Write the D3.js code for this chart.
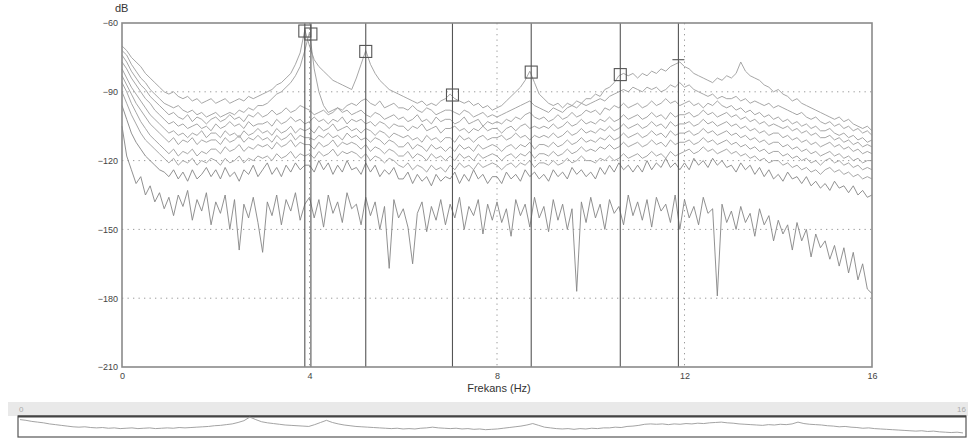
<!DOCTYPE html>
<html>
  <head>
    <meta charset="utf-8">
    <title>Frekans</title>
    <script src="https://cdn.jsdelivr.net/npm/d3@7"></script>
    <style>
      body { margin: 0; background: #ffffff; }
      text { font-family: Arial, "Liberation Sans", sans-serif; }
    </style>
  </head>
  <body>
    <svg width="968" height="439" id="mainsvg"></svg>
    <script>
      // spectra in dB, one value per 0.1 Hz bin from 0 to 16 Hz (161 bins)
      const binWidth = 0.1;
      const specA = [
        -70, -72, -75, -77, -79, -82, -84, -86, -88, -90,
        -91, -90, -92, -93, -92, -94, -93, -95, -94, -93,
        -95, -94, -93, -95, -94, -93, -94, -92, -93, -92,
        -91, -90, -89, -87, -86, -84, -82, -78, -73, -63,
        -70, -76, -79, -81, -83, -85, -86, -87, -88, -89,
        -84, -78, -72, -78, -82, -85, -87, -89, -90, -91,
        -92, -93, -94, -95, -94, -96, -95, -96, -94, -93,
        -91, -93, -94, -95, -94, -96, -95, -97, -96, -98,
        -97, -96, -94, -92, -90, -88, -85, -81, -86, -91,
        -93, -95, -96, -95, -97, -95, -96, -94, -95, -93,
        -93, -91, -92, -89, -88, -86, -83, -82, -83, -82,
        -84, -82, -83, -81, -82, -80, -81, -79, -78, -77,
        -79, -80, -82, -83, -84, -85, -86, -84, -85, -83,
        -84, -82, -77, -81, -83, -84, -85, -87, -88, -90,
        -89, -91, -92, -94, -93, -95, -96, -97, -98, -99,
        -100, -101, -102, -101, -103, -102, -104, -105, -106, -105,
        -107];
      const specB = [
        -72, -74, -78, -81, -84, -86, -89, -91, -93, -95,
        -96, -97, -96, -98, -99, -98, -100, -99, -101, -100,
        -99, -101, -100, -99, -100, -98, -99, -97, -98, -96,
        -96, -95, -93, -91, -90, -88, -86, -83, -79, -72,
        -64, -80, -90, -96, -99, -98, -97, -98, -96, -95,
        -96, -94, -93, -95, -96, -94, -97, -96, -95, -97,
        -97, -98, -96, -98, -99, -97, -98, -100, -99, -98,
        -98, -99, -100, -98, -99, -101, -100, -99, -101, -100,
        -101, -100, -99, -98, -97, -96, -95, -94, -96, -97,
        -98, -99, -97, -98, -99, -97, -96, -97, -95, -96,
        -95, -94, -93, -94, -92, -91, -90, -89, -90, -88,
        -89, -90, -88, -89, -88, -90, -89, -87, -88, -86,
        -88, -87, -89, -90, -91, -92, -91, -93, -92, -93,
        -93, -92, -94, -93, -95, -94, -95, -96, -95, -97,
        -96, -97, -98, -99, -100, -99, -101, -102, -101, -103,
        -104, -103, -105, -104, -106, -105, -107, -106, -108, -107,
        -109];
      const specC = [
        -74, -77, -81, -84, -87, -89, -92, -94, -96, -98,
        -100, -99, -101, -102, -100, -103, -101, -102, -104, -102,
        -101, -103, -102, -100, -102, -101, -103, -100, -101, -99,
        -101, -100, -98, -100, -99, -97, -99, -98, -96, -97,
        -98, -100, -99, -98, -100, -99, -97, -99, -98, -100,
        -99, -98, -100, -101, -99, -100, -102, -101, -100, -102,
        -101, -103, -102, -100, -103, -102, -104, -101, -103, -102,
        -102, -104, -103, -101, -104, -103, -102, -105, -103, -104,
        -103, -104, -102, -103, -101, -102, -100, -99, -101, -102,
        -101, -103, -102, -100, -102, -101, -99, -101, -100, -98,
        -99, -98, -100, -97, -98, -96, -97, -95, -97, -96,
        -95, -97, -96, -94, -96, -95, -93, -95, -94, -96,
        -95, -94, -96, -95, -97, -95, -96, -94, -96, -97,
        -96, -98, -97, -99, -98, -100, -99, -101, -100, -102,
        -101, -103, -102, -104, -103, -105, -104, -106, -105, -107,
        -107, -106, -108, -109, -108, -110, -109, -111, -110, -112,
        -111];
      const specD = [
        -77, -80, -84, -87, -90, -93, -95, -98, -100, -102,
        -104, -103, -105, -104, -106, -105, -104, -106, -105, -107,
        -104, -106, -105, -103, -105, -104, -106, -103, -105, -104,
        -104, -103, -105, -102, -104, -103, -101, -103, -102, -104,
        -103, -101, -103, -102, -104, -102, -103, -101, -104, -102,
        -103, -102, -104, -103, -105, -103, -104, -106, -104, -105,
        -105, -107, -105, -106, -104, -107, -106, -105, -108, -106,
        -106, -105, -107, -106, -108, -106, -107, -105, -107, -106,
        -106, -108, -106, -105, -107, -105, -104, -106, -105, -106,
        -105, -106, -104, -106, -105, -103, -105, -104, -102, -104,
        -103, -104, -102, -103, -101, -103, -102, -100, -102, -101,
        -100, -102, -101, -99, -101, -100, -102, -99, -101, -100,
        -100, -99, -101, -100, -98, -100, -99, -101, -100, -99,
        -101, -100, -102, -101, -103, -102, -104, -103, -105, -104,
        -105, -106, -105, -107, -106, -108, -107, -109, -108, -110,
        -110, -109, -111, -110, -112, -111, -113, -112, -114, -113,
        -114];
      const specE = [
        -80, -84, -88, -91, -94, -97, -100, -102, -104, -106,
        -108, -107, -109, -108, -110, -108, -109, -107, -110, -108,
        -108, -110, -107, -109, -108, -110, -107, -109, -108, -106,
        -108, -107, -109, -106, -108, -107, -105, -108, -106, -107,
        -106, -108, -105, -107, -106, -104, -107, -106, -105, -107,
        -106, -108, -106, -107, -109, -107, -108, -110, -108, -109,
        -110, -109, -111, -110, -112, -109, -111, -110, -112, -110,
        -110, -112, -109, -111, -110, -112, -110, -109, -111, -110,
        -110, -109, -111, -110, -108, -110, -109, -111, -109, -110,
        -109, -110, -108, -110, -109, -107, -109, -108, -106, -108,
        -107, -108, -106, -107, -105, -107, -106, -104, -106, -105,
        -104, -106, -105, -103, -105, -104, -106, -103, -105, -104,
        -104, -103, -105, -104, -102, -104, -103, -105, -104, -103,
        -105, -104, -106, -105, -107, -106, -108, -107, -109, -108,
        -108, -110, -109, -111, -110, -112, -111, -113, -112, -114,
        -113, -112, -114, -113, -115, -114, -116, -115, -117, -116,
        -117];
      const specF = [
        -83, -87, -91, -95, -98, -101, -104, -106, -108, -110,
        -112, -110, -113, -111, -112, -110, -113, -111, -112, -111,
        -111, -113, -110, -112, -111, -109, -112, -110, -111, -109,
        -111, -110, -112, -109, -111, -110, -108, -111, -109, -110,
        -110, -111, -109, -110, -108, -110, -109, -111, -108, -110,
        -109, -111, -110, -112, -110, -111, -113, -111, -112, -114,
        -114, -112, -115, -113, -114, -116, -113, -115, -114, -116,
        -114, -116, -113, -115, -114, -116, -113, -115, -114, -113,
        -114, -116, -114, -113, -115, -113, -114, -112, -115, -113,
        -113, -114, -112, -114, -113, -111, -113, -112, -110, -112,
        -111, -112, -110, -111, -109, -111, -110, -108, -110, -109,
        -108, -110, -109, -107, -109, -108, -110, -107, -109, -108,
        -108, -107, -109, -108, -106, -108, -107, -109, -108, -107,
        -109, -108, -110, -109, -111, -110, -112, -111, -113, -112,
        -112, -114, -113, -115, -114, -116, -115, -117, -116, -118,
        -117, -116, -118, -117, -119, -118, -120, -119, -121, -120,
        -120];
      const specG = [
        -86, -90, -95, -99, -103, -106, -109, -111, -113, -115,
        -117, -115, -118, -116, -117, -115, -118, -116, -117, -115,
        -115, -117, -114, -116, -115, -113, -116, -114, -115, -113,
        -114, -113, -115, -112, -114, -113, -111, -114, -112, -113,
        -113, -115, -112, -114, -113, -111, -114, -112, -113, -112,
        -113, -115, -113, -116, -114, -115, -117, -115, -116, -118,
        -118, -116, -119, -117, -118, -120, -117, -119, -118, -120,
        -118, -120, -117, -119, -118, -120, -117, -119, -118, -117,
        -118, -120, -118, -117, -119, -117, -118, -116, -119, -117,
        -117, -118, -116, -118, -117, -115, -117, -116, -114, -116,
        -115, -116, -114, -115, -113, -115, -114, -112, -114, -113,
        -112, -114, -113, -111, -113, -112, -114, -111, -113, -112,
        -112, -111, -113, -112, -110, -112, -111, -113, -112, -111,
        -113, -112, -114, -113, -115, -114, -116, -115, -117, -116,
        -116, -118, -117, -119, -118, -120, -119, -121, -120, -122,
        -120, -119, -121, -120, -122, -121, -123, -122, -124, -123,
        -124];
      const specH = [
        -90, -95, -100, -104, -108, -111, -113, -115, -117, -119,
        -121, -119, -122, -120, -121, -119, -122, -120, -121, -119,
        -120, -122, -119, -121, -120, -118, -121, -119, -120, -118,
        -119, -118, -120, -117, -119, -118, -116, -119, -117, -118,
        -117, -119, -116, -118, -117, -115, -118, -116, -117, -116,
        -117, -119, -117, -120, -118, -119, -121, -119, -120, -122,
        -123, -121, -124, -122, -123, -125, -122, -124, -123, -125,
        -122, -124, -121, -123, -122, -124, -121, -123, -122, -121,
        -122, -124, -122, -121, -123, -121, -122, -120, -123, -121,
        -121, -122, -120, -122, -121, -119, -121, -120, -118, -120,
        -120, -121, -119, -120, -118, -120, -119, -117, -119, -118,
        -117, -119, -118, -116, -118, -117, -119, -116, -118, -117,
        -116, -115, -117, -116, -114, -116, -115, -117, -116, -115,
        -117, -116, -118, -117, -119, -118, -120, -119, -121, -120,
        -120, -122, -121, -123, -122, -124, -123, -125, -124, -126,
        -124, -123, -125, -124, -126, -125, -127, -126, -128, -127,
        -128];
      const specI = [
        -96, -102, -108, -112, -115, -118, -120, -122, -124, -125,
        -127, -124, -128, -125, -129, -124, -128, -126, -123, -127,
        -124, -128, -123, -127, -125, -129, -124, -126, -122, -127,
        -124, -121, -126, -123, -127, -122, -125, -121, -124, -122,
        -122, -125, -120, -124, -121, -126, -122, -125, -120, -124,
        -123, -126, -121, -125, -122, -127, -124, -126, -123, -128,
        -128, -125, -130, -126, -129, -127, -131, -126, -129, -127,
        -128, -125, -130, -126, -129, -124, -128, -126, -130, -127,
        -127, -130, -125, -128, -126, -129, -124, -127, -125, -128,
        -126, -129, -124, -127, -125, -128, -123, -126, -124, -127,
        -125, -128, -123, -126, -122, -125, -121, -124, -122, -125,
        -122, -125, -120, -124, -121, -123, -119, -123, -121, -124,
        -121, -124, -119, -122, -120, -123, -119, -122, -120, -123,
        -122, -125, -121, -124, -122, -126, -123, -127, -124, -128,
        -126, -129, -125, -128, -127, -130, -127, -131, -129, -132,
        -130, -133, -129, -132, -131, -134, -131, -135, -133, -136,
        -135];
      const specL = [
        -105, -118, -124, -130, -127, -135, -131, -138, -134, -141,
        -136, -144, -135, -140, -133, -146, -137, -142, -134, -148,
        -138, -143, -135, -150, -137, -159, -139, -145, -136, -147,
        -160, -138, -144, -135, -148, -137, -142, -134, -146, -139,
        -136, -145, -137, -149, -135, -143, -138, -147, -134, -141,
        -139, -148, -136, -144, -138, -150, -140, -167, -137, -145,
        -141, -149, -165, -143, -138, -151, -140, -146, -137, -148,
        -139, -145, -136, -150, -140, -144, -137, -152, -139, -146,
        -138, -147, -141, -153, -137, -144, -139, -149, -136, -145,
        -140, -151, -137, -146, -139, -150, -141, -177, -138, -147,
        -136, -145, -139, -150, -137, -143, -140, -148, -135, -144,
        -138, -146, -137, -149, -136, -142, -139, -147, -135, -150,
        -137, -145, -140, -148, -136, -143, -141, -179, -139, -147,
        -142, -150, -140, -147, -143, -153, -141, -148, -144, -155,
        -146, -152, -148, -159, -147, -155, -150, -162, -152, -158,
        -155, -163, -157, -166, -158, -169, -160, -172, -165, -176,
        -178];

      // cursor markers (Hz, dB)
      const peakFreqs = [3.90, 4.03, 5.20, 7.05, 8.73, 10.63, 11.87];
      const peakDb = [-63.5, -64.8, -72.4, -91.4, -81.4, -82.5, -76];
      const peakShape = ['square', 'square', 'square', 'square', 'square', 'square', 'bar'];

      const xTicks = [0, 4, 8, 12, 16];
      const yTicks = [-60, -90, -120, -150, -180, -210];

      const svg = d3.select('#mainsvg');
      const margin = {top: 23, left: 122};
      const innerWidth = 750;
      const innerHeight = 344;

      const xScale = d3.scaleLinear().domain([0, 16]).range([0, innerWidth]);
      const yScale = d3.scaleLinear().domain([-60, -210]).range([0, innerHeight]);

      const g = svg.append('g')
        .attr('transform', `translate(${margin.left}, ${margin.top})`)
        .attr('id', 'maingroup');

      // dotted grid
      g.selectAll('.hgrid').data(yTicks.slice(1, -1)).join('line')
        .attr('class', 'hgrid')
        .attr('x1', 0).attr('x2', innerWidth)
        .attr('y1', d => yScale(d)).attr('y2', d => yScale(d))
        .attr('stroke', '#9a9a9a').attr('stroke-dasharray', '1.3,4.2');
      g.selectAll('.vgrid').data(xTicks.slice(1, -1)).join('line')
        .attr('class', 'vgrid')
        .attr('y1', 0).attr('y2', innerHeight)
        .attr('x1', d => xScale(d)).attr('x2', d => xScale(d))
        .attr('stroke', '#9a9a9a').attr('stroke-dasharray', '1.3,4.2');

      // spectra
      const spectra = [specL, specI, specH, specG, specF, specE, specD, specC, specB, specA];
      const line = d3.line()
        .x((d, i) => xScale(i * binWidth))
        .y(d => yScale(d));
      g.selectAll('.spec').data(spectra).join('path')
        .attr('class', 'spec')
        .attr('d', line)
        .attr('fill', 'none')
        .attr('stroke', (d, i) => i < 2 ? '#858585' : '#9c9c9c')
        .attr('stroke-width', 0.9);

      // cursor lines and markers
      g.selectAll('.cursor').data(peakFreqs).join('line')
        .attr('class', 'cursor')
        .attr('x1', d => xScale(d)).attr('x2', d => xScale(d))
        .attr('y1', 0).attr('y2', innerHeight)
        .attr('stroke', '#555').attr('stroke-width', 1.1);
      const markers = peakFreqs.map((f, i) => ({f: f, db: peakDb[i], shape: peakShape[i]}));
      g.selectAll('.sq').data(markers.filter(d => d.shape === 'square')).join('rect')
        .attr('class', 'sq')
        .attr('x', d => xScale(d.f) - 6).attr('y', d => yScale(d.db) - 6)
        .attr('width', 12).attr('height', 12)
        .attr('fill', 'none').attr('stroke', '#555').attr('stroke-width', 1.1);
      g.selectAll('.bar').data(markers.filter(d => d.shape === 'bar')).join('line')
        .attr('class', 'bar')
        .attr('x1', d => xScale(d.f) - 6).attr('x2', d => xScale(d.f) + 6)
        .attr('y1', d => yScale(d.db)).attr('y2', d => yScale(d.db))
        .attr('stroke', '#555').attr('stroke-width', 1.1);

      // frame
      g.append('rect')
        .attr('width', innerWidth).attr('height', innerHeight)
        .attr('fill', 'none').attr('stroke', '#8a8a8a').attr('stroke-width', 1.6);

      // axes (labels only)
      const yAxis = d3.axisLeft(yScale).tickValues(yTicks).tickSize(0).tickPadding(4);
      const yAxisGroup = g.append('g').call(yAxis);
      yAxisGroup.selectAll('.domain').remove();
      yAxisGroup.selectAll('text').attr('font-size', 9).attr('fill', '#444')
        .style('font-family', 'Arial, "Liberation Sans", sans-serif');
      const xAxis = d3.axisBottom(xScale).tickValues(xTicks).tickSize(0).tickPadding(6);
      const xAxisGroup = g.append('g').attr('transform', `translate(0, ${innerHeight})`).call(xAxis);
      xAxisGroup.selectAll('.domain').remove();
      xAxisGroup.selectAll('text').attr('font-size', 9).attr('fill', '#444')
        .style('font-family', 'Arial, "Liberation Sans", sans-serif');

      svg.append('text').attr('x', 115).attr('y', 12)
        .attr('font-size', 11).attr('fill', '#333').text('dB');
      svg.append('text').attr('x', 499).attr('y', 392)
        .attr('text-anchor', 'middle').attr('font-size', 11).attr('fill', '#333')
        .text('Frekans (Hz)');

      // overview strip
      const ov = svg.append('g');
      ov.append('rect').attr('x', 8).attr('y', 402).attr('width', 960).attr('height', 14).attr('fill', '#e9e9e9');
      ov.append('text').attr('x', 19).attr('y', 412).attr('font-size', 8).attr('fill', '#aaa').text(xTicks[0]);
      ov.append('text').attr('x', 966).attr('y', 412).attr('text-anchor', 'end')
        .attr('font-size', 8).attr('fill', '#aaa').text(xTicks[xTicks.length - 1]);
      ov.append('rect').attr('x', 18).attr('y', 416).attr('width', 948).attr('height', 21)
        .attr('fill', '#fff').attr('stroke', '#555').attr('stroke-width', 1.2);
      ov.append('line').attr('x1', 18).attr('x2', 966).attr('y1', 416.5).attr('y2', 416.5)
        .attr('stroke', '#444').attr('stroke-width', 2);
      const ovX = d3.scaleLinear().domain([0, 16]).range([20, 963]);
      const ovY = d3.scaleLinear().domain([-60, -110]).range([416, 434]);
      ov.append('path')
        .attr('d', d3.line().x((d, i) => ovX(i * binWidth)).y(d => ovY(d))(specA))
        .attr('fill', 'none').attr('stroke', '#999').attr('stroke-width', 0.9);
    </script>
  </body>
</html>
